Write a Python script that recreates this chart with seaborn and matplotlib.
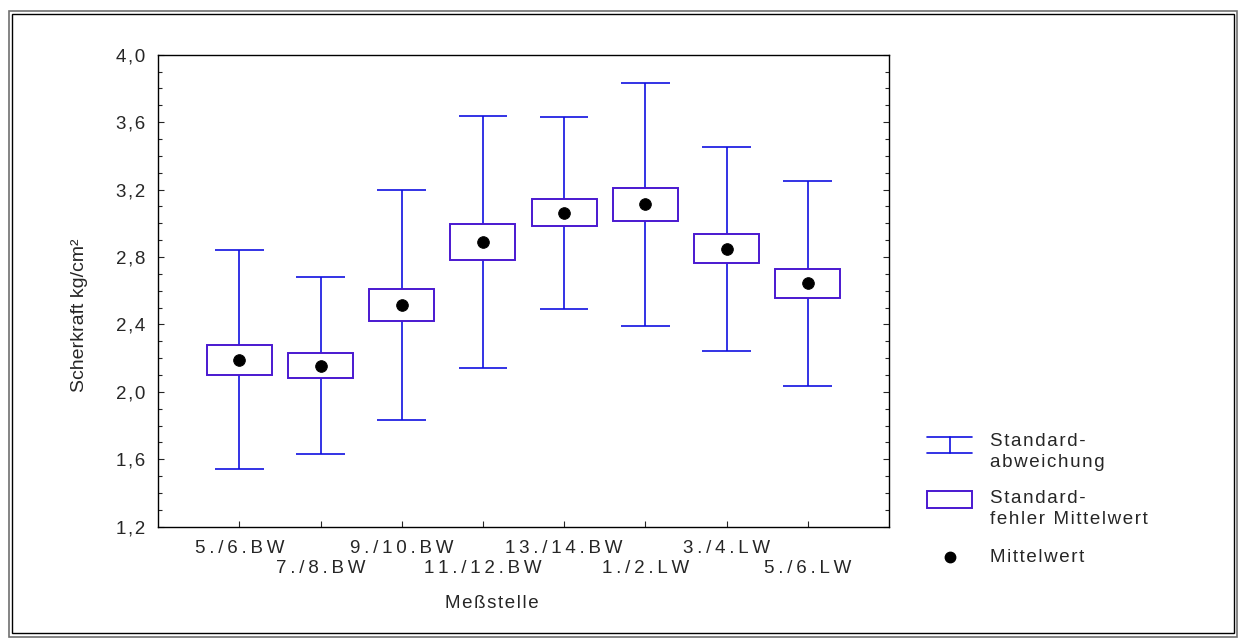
import matplotlib
matplotlib.use("Agg")
import matplotlib.pyplot as plt
import seaborn as sns
import pandas as pd
import numpy as np
from matplotlib.patches import Rectangle
from matplotlib.lines import Line2D
from matplotlib.ticker import MultipleLocator, FuncFormatter

stellen = ["5./6.BW", "7./8.BW", "9./10.BW", "11./12.BW",
           "13./14.BW", "1./2.LW", "3./4.LW", "5./6.LW"]
mittelwert = [2.19, 2.155, 2.515, 2.89, 3.063, 3.112, 2.85, 2.645]
std_abw = [0.65, 0.525, 0.68, 0.747, 0.57, 0.72, 0.605, 0.607]
std_fehler = [0.09, 0.075, 0.095, 0.105, 0.08, 0.10, 0.085, 0.085]

sns.set_style("white")
plt.rcParams['font.family'] = ['Liberation Sans', 'DejaVu Sans']

WHISK = '#1010E0'
BOX = '#4A18D0'
FS = 13.5
THIN = '\u2009'
HAIR = '\u200a'


def sperren(s, sp):
    # gesperrte Schrift wie im Original
    return sp.join(s)


df = pd.DataFrame({'Meßstelle': stellen, 'mw': mittelwert,
                   'sd': std_abw, 'se': std_fehler})
df['pos'] = np.arange(len(df))

fig = plt.figure(figsize=(12.45, 6.44), dpi=100)
ax = fig.add_axes([0.127, 0.182, 0.587, 0.733])

# Standardabweichung (Whisker) und Standardfehler (Box)
for _, r in df.iterrows():
    ax.vlines(r.pos, r.mw - r.sd, r.mw - r.se, color=WHISK, lw=1.2, zorder=2)
    ax.vlines(r.pos, r.mw + r.se, r.mw + r.sd, color=WHISK, lw=1.2, zorder=2)
    ax.hlines([r.mw - r.sd, r.mw + r.sd], r.pos - 0.3, r.pos + 0.3,
              color=WHISK, lw=1.2, zorder=2)
    ax.add_patch(Rectangle((r.pos - 0.4, r.mw - r.se), 0.8, 2 * r.se,
                           facecolor='white', edgecolor=BOX, lw=1.4, zorder=3))

# Mittelwert
sns.scatterplot(data=df, x='pos', y='mw', ax=ax, color='black', s=70,
                edgecolor='black', zorder=4, legend=False)
ax.set_xlabel('')
ax.set_ylabel('')

ax.set_xlim(-1, 8)
ax.set_ylim(1.2, 4.0)
ax.yaxis.set_major_locator(MultipleLocator(0.4))
ax.yaxis.set_minor_locator(MultipleLocator(0.1))
ax.yaxis.set_major_formatter(
    FuncFormatter(lambda v, p: sperren(f"{v:.1f}".replace('.', ','), HAIR)))
ax.set_xticks(df['pos'])
ax.set_xticklabels([])
ax.tick_params(axis='y', which='both', direction='in', left=True, right=True,
               length=3, width=0.8, labelsize=FS, pad=9)
ax.tick_params(axis='y', which='major', length=4)
ax.tick_params(axis='x', direction='in', bottom=True, length=4, width=0.8)
for sp in ax.spines.values():
    sp.set_color('black')
    sp.set_linewidth(1.0)

# gestaffelte Beschriftung der x-Achse
for i, lab in enumerate(stellen):
    yoff = -0.045 if i % 2 == 0 else -0.089
    ax.text(i, yoff, sperren(lab, THIN), transform=ax.get_xaxis_transform(),
            ha='center', va='center', fontsize=FS)

# Overlay in Pixelkoordinaten fuer Achsentitel, Legende und Rahmen
ov = fig.add_axes([0, 0, 1, 1], facecolor='none')
ov.set_xlim(0, 1245)
ov.set_ylim(644, 0)
ov.axis('off')

ov.text(492, 604, sperren('Meßstelle', HAIR), ha='center', va='center',
        fontsize=FS)
ov.text(80, 315, 'Scherkraft kg/cm²', rotation=90, ha='center', va='center',
        fontsize=14)

# Legende
ov.add_line(Line2D([927, 972], [437, 437], color=WHISK, lw=1.2))
ov.add_line(Line2D([927, 972], [453, 453], color=WHISK, lw=1.2))
ov.add_line(Line2D([949.5, 949.5], [437, 453], color=WHISK, lw=1.2))
ov.text(990, 452, sperren('Standard-', HAIR) + '\n' + sperren('abweichung', HAIR),
        fontsize=FS, va='center', linespacing=1.32)
ov.add_patch(Rectangle((927, 491), 45, 17, facecolor='white',
                       edgecolor=BOX, lw=1.4))
ov.text(990, 509, sperren('Standard-', HAIR) + '\n' + sperren('fehler Mittelwert', HAIR),
        fontsize=FS, va='center', linespacing=1.32)
ov.plot([950], [557], 'o', color='black', ms=7.5)
ov.text(990, 557, sperren('Mittelwert', HAIR), fontsize=FS, va='center')

# doppelter Rahmen
ov.add_patch(Rectangle((8.5, 10.5), 1228.5, 626, fill=False,
                       edgecolor='#707070', lw=1.2))
ov.add_patch(Rectangle((12, 13.5), 1222, 619.5, fill=False,
                       edgecolor='black', lw=1.0))

fig.savefig('out.png', dpi=100)
